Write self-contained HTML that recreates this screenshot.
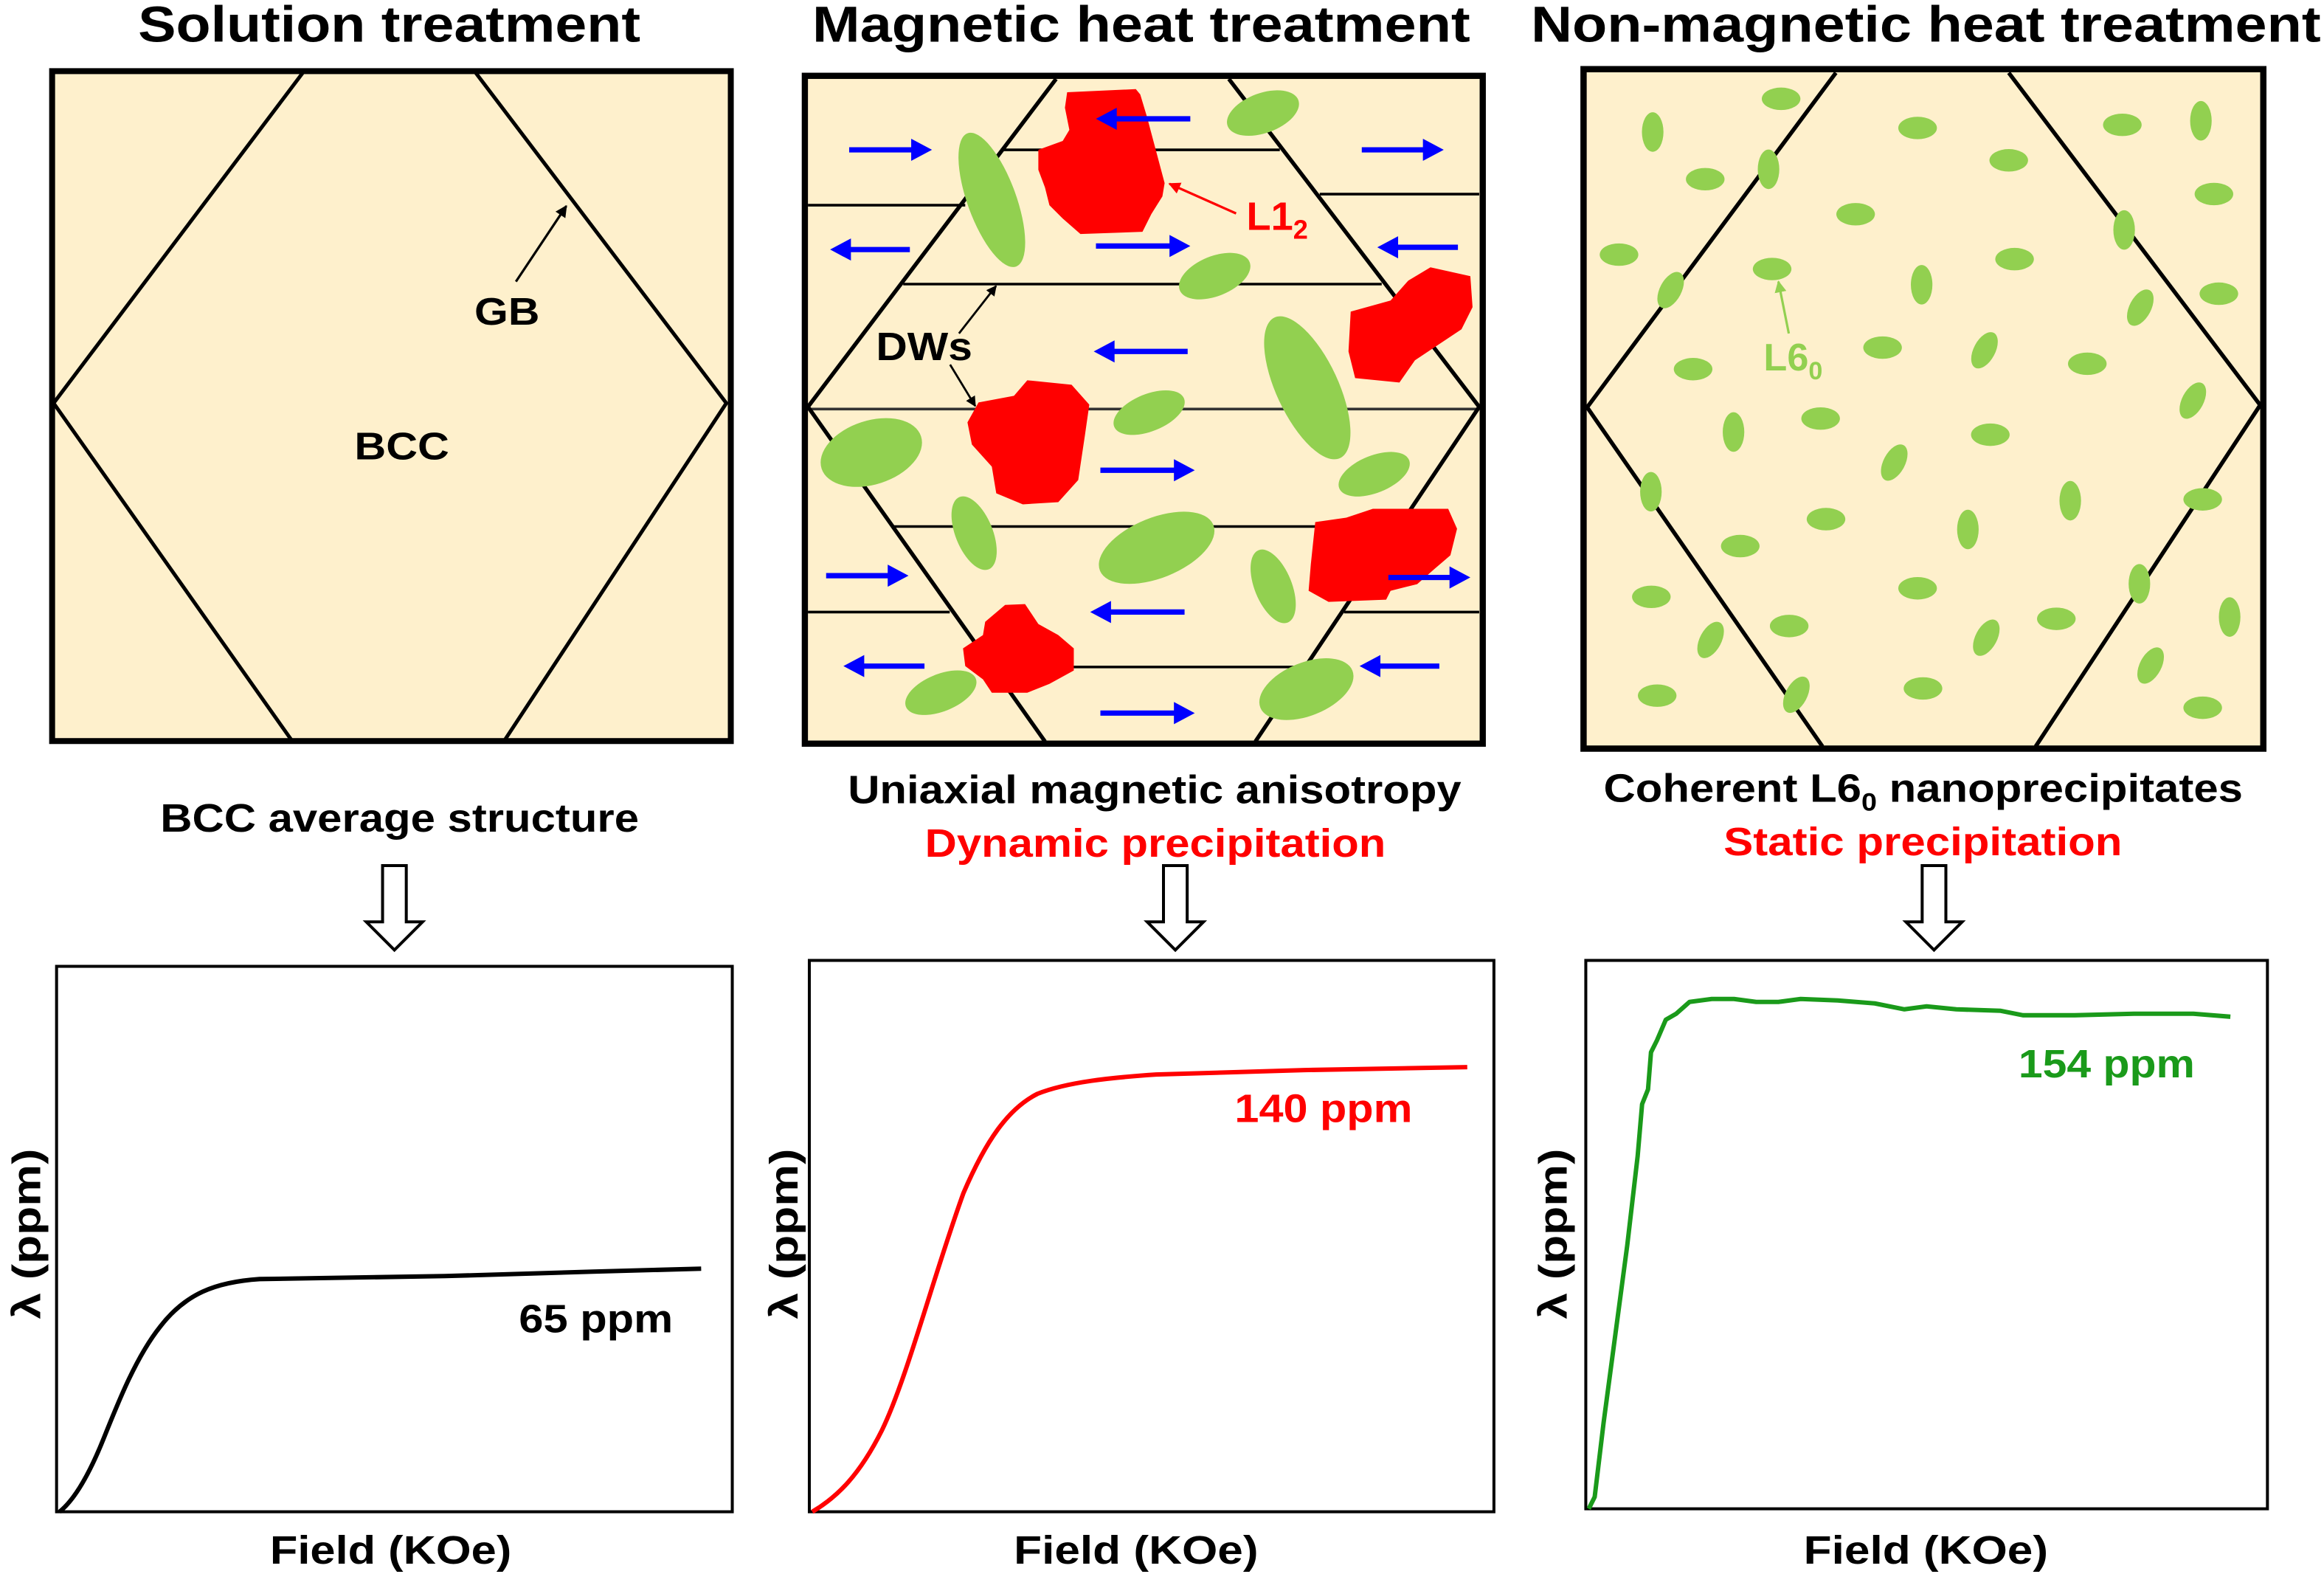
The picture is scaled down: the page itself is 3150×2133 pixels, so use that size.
<!DOCTYPE html>
<html><head><meta charset="utf-8"><style>
html,body{margin:0;padding:0;background:#fff;}
svg{display:block;}
text{font-family:"Liberation Sans Narrow","Liberation Sans",sans-serif;font-weight:bold;}
</style></head><body>
<svg width="3150" height="2133" viewBox="0 0 1568 1062" xmlns="http://www.w3.org/2000/svg">
<defs>
<marker id="ah" viewBox="0 0 10 10" refX="9" refY="5" markerWidth="5" markerHeight="5" orient="auto"><path d="M0,0 L10,5 L0,10 z" fill="#000"/></marker>
<marker id="ahr" viewBox="0 0 10 10" refX="9" refY="5" markerWidth="5" markerHeight="5" orient="auto"><path d="M0,0 L10,5 L0,10 z" fill="#f00"/></marker>
<marker id="ahg" viewBox="0 0 10 10" refX="9" refY="5" markerWidth="5" markerHeight="5" orient="auto"><path d="M0,0 L10,5 L0,10 z" fill="#92d050"/></marker>
</defs>

<!-- Titles -->
<text x="93" y="28" font-size="34" textLength="339" lengthAdjust="spacingAndGlyphs">Solution treatment</text>
<text x="548" y="28" font-size="34" textLength="444" lengthAdjust="spacingAndGlyphs">Magnetic heat treatment</text>
<text x="1033" y="28" font-size="34" textLength="533" lengthAdjust="spacingAndGlyphs">Non-magnetic heat treatment</text>

<!-- Left panel -->
<rect x="35" y="48" width="458" height="452" fill="#fef0cc" stroke="#000" stroke-width="4"/>
<polyline points="205,48 36,272 197,500" fill="none" stroke="#000" stroke-width="2.5"/>
<polyline points="320,48 490,272 340,500" fill="none" stroke="#000" stroke-width="2.5"/>
<line x1="348" y1="190" x2="382" y2="139" stroke="#000" stroke-width="1.6" marker-end="url(#ah)"/>
<text x="320" y="219" font-size="26" textLength="44" lengthAdjust="spacingAndGlyphs">GB</text>
<text x="239" y="310" font-size="26" textLength="64" lengthAdjust="spacingAndGlyphs">BCC</text>

<!-- Middle panel -->
<g transform="translate(537.6,39.8) scale(0.299)">
<rect x="18" y="38" width="1530" height="1507" fill="#fef0cc"/>
<g stroke="#000" stroke-width="6" fill="none">
<line x1="460" y1="205" x2="1090" y2="205"/>
<line x1="25" y1="330" x2="380" y2="330"/>
<line x1="1180" y1="305" x2="1540" y2="305"/>
<line x1="240" y1="508" x2="1320" y2="508"/>
<line x1="25" y1="790" x2="1540" y2="790" stroke="#333"/>
<line x1="215" y1="1055" x2="1390" y2="1055"/>
<line x1="25" y1="1248" x2="345" y2="1248"/>
<line x1="1235" y1="1248" x2="1540" y2="1248"/>
<line x1="620" y1="1372" x2="1150" y2="1372"/>
</g>
<polyline points="585,45 25,785 560,1540" fill="none" stroke="#000" stroke-width="9"/>
<polyline points="975,45 1540,785 1035,1540" fill="none" stroke="#000" stroke-width="9"/>
<g fill="#92d050">
<ellipse cx="440" cy="318" rx="55" ry="160" transform="rotate(-20 440 318)"/>
<ellipse cx="1052" cy="122" rx="85" ry="45" transform="rotate(-20 1052 122)"/>
<ellipse cx="943" cy="490" rx="85" ry="45" transform="rotate(-22 943 490)"/>
<ellipse cx="1152" cy="742" rx="70" ry="175" transform="rotate(-25 1152 742)"/>
<ellipse cx="795" cy="798" rx="85" ry="42" transform="rotate(-22 795 798)"/>
<ellipse cx="168" cy="888" rx="118" ry="72" transform="rotate(-18 168 888)"/>
<ellipse cx="400" cy="1070" rx="42" ry="88" transform="rotate(-22 400 1070)"/>
<ellipse cx="812" cy="1103" rx="138" ry="68" transform="rotate(-22 812 1103)"/>
<ellipse cx="1303" cy="937" rx="85" ry="42" transform="rotate(-22 1303 937)"/>
<ellipse cx="1075" cy="1190" rx="42" ry="88" transform="rotate(-22 1075 1190)"/>
<ellipse cx="325" cy="1430" rx="85" ry="42" transform="rotate(-22 325 1430)"/>
<ellipse cx="1150" cy="1422" rx="112" ry="60" transform="rotate(-22 1150 1422)"/>
</g>
<g fill="#ff0000">
<polygon points="610,75 765,68 775,80 790,130 830,280 825,310 800,350 780,390 640,395 600,360 570,330 560,290 545,250 545,205 600,185 615,160 605,110"/>
<polygon points="1430,470 1520,490 1525,560 1500,610 1440,650 1395,680 1360,730 1260,720 1245,660 1250,570 1340,545 1380,500"/>
<polygon points="520,725 620,735 660,780 650,850 635,950 590,1000 510,1005 450,980 440,920 395,870 385,820 410,775 490,760"/>
<polygon points="1170,1045 1240,1035 1300,1015 1470,1015 1490,1060 1475,1120 1440,1150 1400,1185 1340,1200 1330,1220 1200,1225 1155,1200 1160,1140"/>
<polygon points="470,1232 515,1230 545,1275 590,1300 625,1330 625,1380 570,1410 520,1430 440,1430 420,1400 380,1370 375,1330 420,1300 425,1270"/>
</g>
<g fill="#0000ff">
<path d="M118,199 H258 V180 L305,205 L258,230 V211 H118 Z"/>
<path d="M675,416 H841 V397 L888,422 L841,447 V428 H675 Z"/>
<path d="M1275,199 H1413 V180 L1460,205 L1413,230 V211 H1275 Z"/>
<path d="M685,922 H851 V903 L898,928 L851,953 V934 H685 Z"/>
<path d="M66,1160 H205 V1141 L252,1166 L205,1191 V1172 H66 Z"/>
<path d="M1335,1164 H1473 V1145 L1520,1170 L1473,1195 V1176 H1335 Z"/>
<path d="M685,1470 H851 V1451 L898,1476 L851,1501 V1482 H685 Z"/>
<path d="M888,129 H722 V110 L675,135 L722,160 V141 H888 Z"/>
<path d="M255,424 H122 V405 L75,430 L122,455 V436 H255 Z"/>
<path d="M1492,419 H1357 V400 L1310,425 L1357,450 V431 H1492 Z"/>
<path d="M882,654 H717 V635 L670,660 L717,685 V666 H882 Z"/>
<path d="M875,1242 H709 V1223 L662,1248 L709,1273 V1254 H875 Z"/>
<path d="M288,1364 H152 V1345 L105,1370 L152,1395 V1376 H288 Z"/>
<path d="M1450,1364 H1317 V1345 L1270,1370 L1317,1395 V1376 H1450 Z"/>
</g>
<rect x="18" y="38" width="1530" height="1507" fill="none" stroke="#000" stroke-width="14"/>
</g>
<line x1="834" y1="144" x2="789" y2="124" stroke="#f00" stroke-width="1.6" marker-end="url(#ahr)"/>
<text x="841" y="155" font-size="27" fill="#f00">L1<tspan font-size="18" dy="6">2</tspan></text>
<line x1="647" y1="225" x2="672" y2="193" stroke="#000" stroke-width="1.4" marker-end="url(#ah)"/>
<line x1="641" y1="246" x2="658" y2="274" stroke="#000" stroke-width="1.4" marker-end="url(#ah)"/>
<text x="591" y="243" font-size="27" textLength="65" lengthAdjust="spacingAndGlyphs">DWs</text>

<!-- Right panel -->
<g transform="translate(1060,40) scale(0.303)">
<rect x="28" y="22" width="1514" height="1513" fill="#fef0cc"/>
<polyline points="590,30 36,775 560,1530" fill="none" stroke="#000" stroke-width="9"/>
<polyline points="975,30 1535,770 1035,1530" fill="none" stroke="#000" stroke-width="9"/>
<g fill="#92d050">
<ellipse cx="468" cy="88" rx="43" ry="25"/>
<ellipse cx="182" cy="162" rx="24" ry="44"/>
<ellipse cx="299" cy="267" rx="43" ry="25"/>
<ellipse cx="440" cy="245" rx="24" ry="44"/>
<ellipse cx="772" cy="153" rx="43" ry="25"/>
<ellipse cx="975" cy="225" rx="43" ry="25"/>
<ellipse cx="1228" cy="146" rx="43" ry="25"/>
<ellipse cx="1403" cy="137" rx="24" ry="44"/>
<ellipse cx="1432" cy="300" rx="43" ry="25"/>
<ellipse cx="1232" cy="380" rx="24" ry="44"/>
<ellipse cx="634" cy="345" rx="43" ry="25"/>
<ellipse cx="107" cy="435" rx="43" ry="25"/>
<ellipse cx="448" cy="467" rx="43" ry="25"/>
<ellipse cx="988" cy="445" rx="43" ry="25"/>
<ellipse cx="781" cy="502" rx="24" ry="44"/>
<ellipse cx="1268" cy="553" rx="24" ry="44" transform="rotate(28 1268 553)"/>
<ellipse cx="1443" cy="522" rx="43" ry="25"/>
<ellipse cx="222" cy="514" rx="24" ry="44" transform="rotate(28 222 514)"/>
<ellipse cx="694" cy="642" rx="43" ry="25"/>
<ellipse cx="921" cy="648" rx="24" ry="44" transform="rotate(28 921 648)"/>
<ellipse cx="1150" cy="678" rx="43" ry="25"/>
<ellipse cx="272" cy="690" rx="43" ry="25"/>
<ellipse cx="1385" cy="760" rx="24" ry="44" transform="rotate(28 1385 760)"/>
<ellipse cx="556" cy="800" rx="43" ry="25"/>
<ellipse cx="362" cy="830" rx="24" ry="44"/>
<ellipse cx="934" cy="836" rx="43" ry="25"/>
<ellipse cx="720" cy="898" rx="24" ry="44" transform="rotate(28 720 898)"/>
<ellipse cx="178" cy="963" rx="24" ry="44"/>
<ellipse cx="1112" cy="983" rx="24" ry="44"/>
<ellipse cx="1407" cy="980" rx="43" ry="25"/>
<ellipse cx="568" cy="1024" rx="43" ry="25"/>
<ellipse cx="884" cy="1047" rx="24" ry="44"/>
<ellipse cx="377" cy="1084" rx="43" ry="25"/>
<ellipse cx="772" cy="1178" rx="43" ry="25"/>
<ellipse cx="179" cy="1197" rx="43" ry="25"/>
<ellipse cx="1266" cy="1168" rx="24" ry="44"/>
<ellipse cx="486" cy="1262" rx="43" ry="25"/>
<ellipse cx="1081" cy="1246" rx="43" ry="25"/>
<ellipse cx="311" cy="1293" rx="24" ry="44" transform="rotate(28 311 1293)"/>
<ellipse cx="925" cy="1288" rx="24" ry="44" transform="rotate(28 925 1288)"/>
<ellipse cx="1467" cy="1242" rx="24" ry="44"/>
<ellipse cx="1291" cy="1350" rx="24" ry="44" transform="rotate(28 1291 1350)"/>
<ellipse cx="192" cy="1417" rx="43" ry="25"/>
<ellipse cx="502" cy="1415" rx="24" ry="44" transform="rotate(28 502 1415)"/>
<ellipse cx="784" cy="1401" rx="43" ry="25"/>
<ellipse cx="1407" cy="1444" rx="43" ry="25"/>
</g>
<rect x="28" y="22" width="1514" height="1513" fill="none" stroke="#000" stroke-width="14"/>
</g>
<line x1="1207" y1="225" x2="1200" y2="190" stroke="#92d050" stroke-width="1.6" marker-end="url(#ahg)"/>
<text x="1190" y="250" font-size="26" fill="#92d050">L6<tspan font-size="17" dy="6">0</tspan></text>

<!-- Captions -->
<text x="108" y="561" font-size="27" textLength="323" lengthAdjust="spacingAndGlyphs">BCC average structure</text>
<text x="572" y="542" font-size="27" textLength="414" lengthAdjust="spacingAndGlyphs">Uniaxial magnetic anisotropy</text>
<text x="624" y="578" font-size="27" fill="#f00" textLength="311" lengthAdjust="spacingAndGlyphs">Dynamic precipitation</text>
<text transform="translate(1082,541) scale(1.105,1)" x="0" y="0" font-size="27">Coherent L6<tspan font-size="17" dy="6">0</tspan><tspan dy="-6"> nanoprecipitates</tspan></text>
<text x="1163" y="577" font-size="27" fill="#f00" textLength="269" lengthAdjust="spacingAndGlyphs">Static precipitation</text>

<!-- Hollow arrows -->
<g fill="#fff" stroke="#000" stroke-width="2">
<path d="M258,584 H274 V622 H285 L266,641 L247,622 H258 Z"/>
<path d="M785,584 H801 V622 H812 L793,641 L774,622 H785 Z"/>
<path d="M1297,584 H1313 V622 H1324 L1305,641 L1286,622 H1297 Z"/>
</g>

<!-- Charts -->
<g fill="none" stroke="#000" stroke-width="2">
<rect x="38" y="652" width="456" height="368"/>
<rect x="546" y="648" width="462" height="372"/>
<rect x="1070" y="648" width="460" height="370"/>
</g>
<path d="M40,1020 C50,1012 60,995 70,970 C80,945 92,915 108,895 C125,873 145,865 175,863 L300,861 L400,858 L473,856" fill="none" stroke="#000" stroke-width="3"/>
<path d="M548,1020 C565,1010 580,995 595,965 C612,930 630,860 650,805 C665,770 680,748 700,738 C720,730 750,727 780,725 L880,722 L990,720" fill="none" stroke="#f00" stroke-width="3"/>
<polyline points="1072,1018 1076,1010 1082,960 1090,900 1098,840 1105,780 1108,745 1112,735 1114,710 1118,702 1124,688 1131,684 1140,676 1155,674 1170,674 1185,676 1200,676 1215,674 1240,675 1265,677 1285,681 1300,679 1320,681 1350,682 1365,685 1400,685 1440,684 1480,684 1505,686" fill="none" stroke="#1a9a1a" stroke-width="3" stroke-linejoin="round"/>
<text x="350" y="899" font-size="27" textLength="104" lengthAdjust="spacingAndGlyphs">65 ppm</text>
<text x="833" y="757" font-size="27" fill="#f00" textLength="120" lengthAdjust="spacingAndGlyphs">140 ppm</text>
<text x="1362" y="727" font-size="27" fill="#1a9a1a" textLength="119" lengthAdjust="spacingAndGlyphs">154 ppm</text>
<text x="182" y="1055" font-size="27" textLength="163" lengthAdjust="spacingAndGlyphs">Field (KOe)</text>
<text x="684" y="1055" font-size="27" textLength="165" lengthAdjust="spacingAndGlyphs">Field (KOe)</text>
<text x="1217" y="1055" font-size="27" textLength="165" lengthAdjust="spacingAndGlyphs">Field (KOe)</text>
<text transform="translate(27,890) rotate(-90)" font-size="27" textLength="115" lengthAdjust="spacingAndGlyphs">λ (ppm)</text>
<text transform="translate(538,890) rotate(-90)" font-size="27" textLength="115" lengthAdjust="spacingAndGlyphs">λ (ppm)</text>
<text transform="translate(1057,890) rotate(-90)" font-size="27" textLength="115" lengthAdjust="spacingAndGlyphs">λ (ppm)</text>
</svg>
</body></html>
